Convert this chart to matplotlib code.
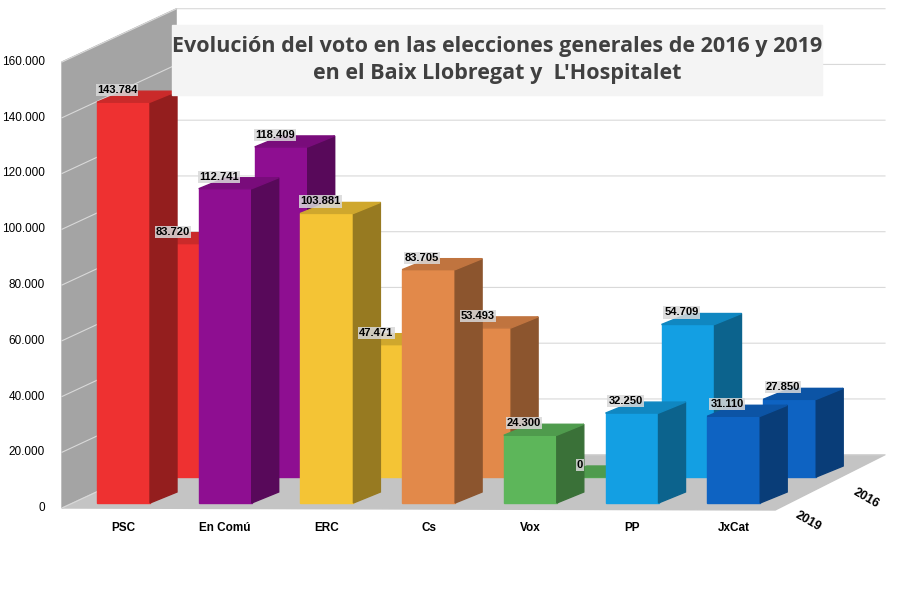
import matplotlib.pyplot as plt
from matplotlib.colors import to_rgb

partidos = ["PSC", "En Comú", "ERC", "Cs", "Vox", "PP", "JxCat"]
votos_2019 = [143784, 112741, 103881, 83705, 24300, 32250, 31110]
votos_2016 = [83720, 118409, 47471, 53493, 0, 54709, 27850]
colores = ["#EE3131", "#8E0E91", "#F4C435", "#E2894A", "#5DB65A", "#139FE3", "#0E63C2"]
yticks = [0, 20000, 40000, 60000, 80000, 100000, 120000, 140000, 160000]

# proyeccion oblicua a pixeles
Y0, KY = 508, 446 / 160000
YB = 503              # base de las barras delanteras
X0, DX = 97, 101.7
ANCHO = 53
FILA = (56, -26)      # desplazamiento entre filas
PROF = (27, -11)      # profundidad de cada barra


def pt(x, v, fila, p=0.0):
    return (x + FILA[0] * fila + PROF[0] * p,
            YB - v * KY + FILA[1] * fila + PROF[1] * p)


def oscuro(c, f):
    r, g, b = to_rgb(c)
    return (r * f, g * f, b * f)


def fmt(v):
    return f"{v:,}".replace(",", ".")


fig = plt.figure(figsize=(9, 6.02), dpi=100)
ax = fig.add_axes([0, 0, 1, 1])
ax.set_xlim(0, 900)
ax.set_ylim(602, 0)
ax.axis("off")

# paredes y suelo
top = 160000
wx0, wx1 = 62, 885
d = 2.05
bx, by = FILA[0] * d, FILA[1] * d
ax.fill([wx0, wx0 + bx, wx0 + bx, wx0], [Y0 - top * KY, Y0 - top * KY + by, Y0 + by, Y0],
        color="#A4A4A4", zorder=0)
ax.fill([wx0 + bx, wx1, wx1, wx0 + bx], [Y0 - top * KY + by, Y0 - top * KY + by, Y0 + by, Y0 + by],
        color="#FFFFFF", zorder=0)
ax.fill([wx0, wx0 + bx, wx1, wx1 - bx + 5], [Y0, Y0 + by, Y0 + by, Y0 + 2],
        color="#C4C4C4", zorder=0)
for t in yticks:
    ax.plot([wx0, wx0 + bx, wx1], [Y0 - t * KY, Y0 - t * KY + by, Y0 - t * KY + by],
            color="#D9D9D9", lw=0.8, zorder=0.5)
    ax.text(45, Y0 - t * KY, fmt(t), ha="right", va="center", fontsize=8.5,
            family="Liberation Sans")

for fila, serie in ((1, votos_2016), (0, votos_2019)):
    for i, v in enumerate(serie):
        x = X0 + i * DX
        c = colores[i]
        a, b = pt(x, 0, fila), pt(x + ANCHO, 0, fila)
        ta, tb = pt(x, v, fila), pt(x + ANCHO, v, fila)
        z = 2 if fila == 1 else 3
        ax.fill([a[0], b[0], tb[0], ta[0]], [a[1], b[1], tb[1], ta[1]], color=c, zorder=z)
        bp, tbp = pt(x + ANCHO, 0, fila, 1), pt(x + ANCHO, v, fila, 1)
        ax.fill([b[0], bp[0], tbp[0], tb[0]], [b[1], bp[1], tbp[1], tb[1]],
                color=oscuro(c, 0.62), zorder=z)
        tap = pt(x, v, fila, 1)
        ax.fill([ta[0], tb[0], tbp[0], tap[0]], [ta[1], tb[1], tbp[1], tap[1]],
                color=oscuro(c, 0.85), zorder=z)
        ax.text(ta[0] + 20, ta[1] - 12, fmt(v), ha="center", va="center", fontsize=8,
                fontweight="bold", family="Liberation Sans", zorder=5,
                bbox=dict(boxstyle="square,pad=0.1", fc="#D9D9D9", ec="none", alpha=0.85))

for i, p in enumerate(partidos):
    ax.text(X0 + i * DX + ANCHO / 2, 528, p, ha="center", va="center", fontsize=8.5,
            fontweight="bold", family="Liberation Sans")
ax.text(808, 521, "2019", rotation=-30, ha="center", va="center", fontsize=9,
        fontweight="bold", family="Liberation Sans")
ax.text(866, 498, "2016", rotation=-30, ha="center", va="center", fontsize=9,
        fontweight="bold", family="Liberation Sans")

ax.fill([172, 822, 822, 172], [25, 25, 95, 95], color="#F4F4F4", zorder=6)
ax.text(497, 60, "Evolución del voto en las elecciones generales de 2016 y 2019\n"
        "en el Baix Llobregat y  L'Hospitalet", ha="center", va="center", fontsize=15.5,
        fontweight="bold", color="#404040", family="Open Sans", linespacing=1.4, zorder=7)

fig.savefig("out.png", dpi=100)
